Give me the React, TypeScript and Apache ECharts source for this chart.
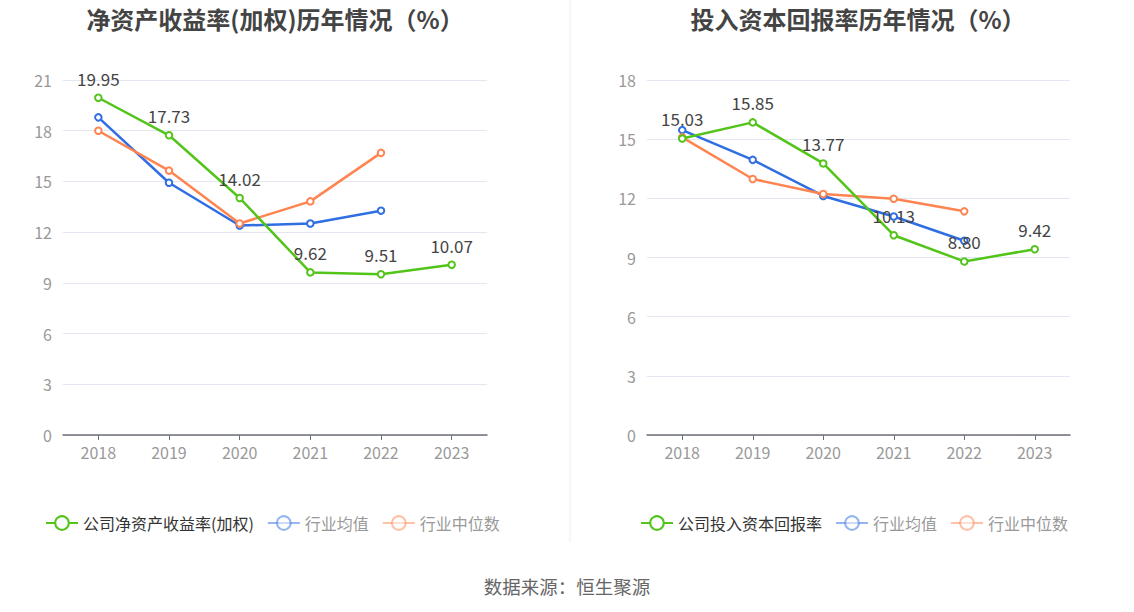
import React, { useEffect, useRef } from "react";
import * as echarts from "echarts";

const years = ["2018", "2019", "2020", "2021", "2022", "2023"];

const roeCompany = [19.95, 17.73, 14.02, 9.62, 9.51, 10.07];
const roeIndustryMean = [18.79, 14.92, 12.39, 12.51, 13.27];
const roeIndustryMedian = [18.0, 15.64, 12.51, 13.82, 16.69];

const roicCompany = [15.03, 15.85, 13.77, 10.13, 8.8, 9.42];
const roicIndustryMean = [15.46, 13.95, 12.12, 11.08, 9.85];
const roicIndustryMedian = [15.09, 12.98, 12.22, 11.98, 11.34];

const leftTitle = "净资产收益率(加权)历年情况（%）";
const rightTitle = "投入资本回报率历年情况（%）";
const leftNames = ["公司净资产收益率(加权)", "行业均值", "行业中位数"];
const rightNames = ["公司投入资本回报率", "行业均值", "行业中位数"];
const sourceText = "数据来源：恒生聚源";

const FONT = "'Noto Sans CJK SC', 'Noto Sans', sans-serif";
const GREEN = "#52c41a";
const BLUE = "#2f6ee3";
const ORANGE = "#ff8450";

function lineSeries(name: string, data: number[], color: string, idx: number, withLabel: boolean) {
  return {
    name,
    type: "line",
    xAxisIndex: idx,
    yAxisIndex: idx,
    data,
    symbol: "emptyCircle",
    symbolSize: 6.5,
    showSymbol: true,
    lineStyle: { width: 2.5, color },
    itemStyle: { color, borderWidth: 2 },
    label: withLabel
      ? {
          show: true,
          position: "top",
          color: "#444",
          fontSize: 17,
          fontFamily: FONT,
          distance: 7,
          formatter: (p: any) => Number(p.value).toFixed(2),
        }
      : { show: false },
    z: withLabel ? 3 : 2,
  };
}

function legendData(names: string[]) {
  return [
    { name: names[0], textStyle: { color: "#333" } },
    { name: names[1], textStyle: { color: "#999" }, itemStyle: { opacity: 0.5 }, lineStyle: { opacity: 0.5 } },
    { name: names[2], textStyle: { color: "#999" }, itemStyle: { opacity: 0.5 }, lineStyle: { opacity: 0.5 } },
  ];
}

export default function App() {
  const ref = useRef<HTMLDivElement>(null);
  useEffect(() => {
    document.body.style.margin = "0";
    if (!ref.current) return;
    const chart = echarts.init(ref.current, null, { renderer: "svg" });
    const xAxisBase = {
      type: "category",
      data: years,
      boundaryGap: true,
      axisLine: { lineStyle: { color: "#6e7079", width: 1.5 } },
      axisTick: { show: true, alignWithLabel: true, length: 5, lineStyle: { color: "#6e7079" } },
      axisLabel: { color: "#999", fontSize: 16, fontFamily: FONT, margin: 9 },
    };
    const yAxisBase = {
      type: "value",
      min: 0,
      interval: 3,
      axisLine: { show: false },
      axisTick: { show: false },
      axisLabel: { color: "#999", fontSize: 16, fontFamily: FONT, margin: 11 },
      splitLine: { lineStyle: { color: "#e3e7f1", width: 1 } },
    };
    const legendBase = {
      top: 510,
      itemWidth: 32,
      itemHeight: 17,
      itemGap: 13,
      textStyle: { fontSize: 16, fontFamily: FONT },
      selectedMode: false,
    };
    chart.setOption({
      animation: false,
      textStyle: { fontFamily: FONT },
      title: [
        { text: leftTitle, left: 270, top: 1, textAlign: "center", textStyle: { fontSize: 24, fontWeight: "bold", color: "#444", fontFamily: FONT } },
        { text: rightTitle, left: 853, top: 1, textAlign: "center", textStyle: { fontSize: 24, fontWeight: "bold", color: "#444", fontFamily: FONT } },
      ],
      legend: [
        { ...legendBase, data: legendData(leftNames), left: 40 },
        { ...legendBase, data: legendData(rightNames), left: 635 },
      ],
      grid: [
        { left: 63, width: 424, top: 80, height: 355 },
        { left: 647, width: 423, top: 80, height: 355 },
      ],
      xAxis: [
        { ...xAxisBase, gridIndex: 0 },
        { ...xAxisBase, gridIndex: 1 },
      ],
      yAxis: [
        { ...yAxisBase, gridIndex: 0, max: 21 },
        { ...yAxisBase, gridIndex: 1, max: 18 },
      ],
      series: [
        lineSeries(leftNames[0], roeCompany, GREEN, 0, true),
        lineSeries(leftNames[1], roeIndustryMean, BLUE, 0, false),
        lineSeries(leftNames[2], roeIndustryMedian, ORANGE, 0, false),
        lineSeries(rightNames[0], roicCompany, GREEN, 1, true),
        lineSeries(rightNames[1], roicIndustryMean, BLUE, 1, false),
        lineSeries(rightNames[2], roicIndustryMedian, ORANGE, 1, false),
      ],
      graphic: [
        { type: "line", shape: { x1: 570, y1: 0, x2: 570, y2: 542 }, style: { stroke: "#eeeeee", lineWidth: 1 } },
        {
          type: "text",
          x: 567,
          y: 586,
          style: { text: sourceText, fill: "#666", fontSize: 18.5, fontFamily: FONT, textAlign: "center", textVerticalAlign: "middle" },
        },
      ],
    });
    return () => chart.dispose();
  }, []);
  return <div ref={ref} style={{ width: 1134, height: 612 }} />;
}
